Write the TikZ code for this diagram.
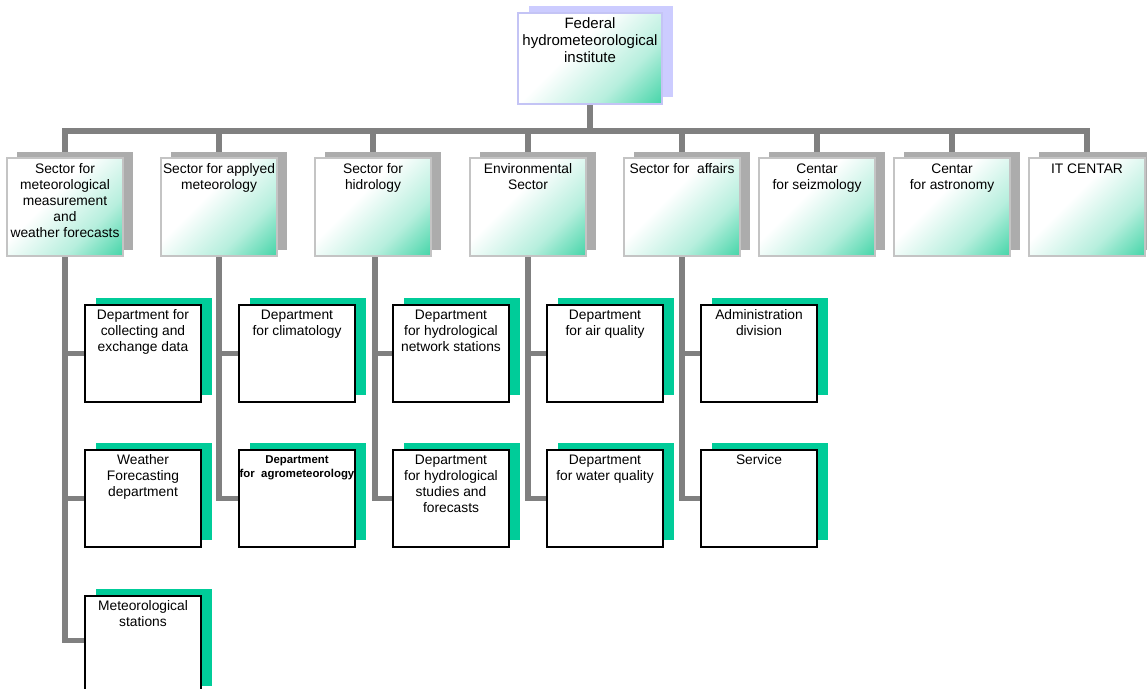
\documentclass[tikz,border=0pt]{standalone}
\usepackage{fontspec}
\setmainfont{Liberation Sans}
\usetikzlibrary{shadows,backgrounds}

\definecolor{linkgrey}{RGB}{128,128,128}
\definecolor{sectshadow}{RGB}{172,172,172}
\definecolor{sectedge}{RGB}{196,196,196}
\definecolor{deptshadow}{RGB}{0,204,153}
\definecolor{lavender}{RGB}{204,204,255}
\definecolor{topedge}{RGB}{196,196,245}
\definecolor{fadegreen}{RGB}{30,204,150}

% white in the upper left, fading to green in the lower right
\pgfdeclarehorizontalshading{whitegreen}{100bp}{color(0bp)=(white); color(42bp)=(white); color(66bp)=(fadegreen!32!white); color(92bp)=(fadegreen); color(100bp)=(fadegreen)}

% top-aligned, centred text block of fixed size
\newcommand\blocktext[6]{\parbox[t][#2][t]{#1}{\centering\fontsize{#3}{#4}\selectfont\vspace*{#5}\strut #6\par}}
\newcommand\toptext[1]{\blocktext{144pt}{91pt}{15}{17}{3.4pt}{#1}}
\newcommand\secttext[1]{\blocktext{116pt}{98pt}{13.8}{16}{3.8pt}{#1}}
\newcommand\depttext[1]{\blocktext{116pt}{97pt}{13.8}{16}{2.8pt}{#1}}
\newcommand\smalldepttext[1]{\blocktext{116pt}{97pt}{11.4}{14}{3.2pt}{\bfseries #1}}

\begin{document}
\begin{tikzpicture}[x=1pt,y=-1pt,
  link/.style={draw=linkgrey, line width=5.5pt, line join=miter},
  boxbase/.style={anchor=north west, inner sep=0pt, outer sep=0pt},
  topbox/.style={boxbase, draw=topedge, line width=1.6pt, shading=whitegreen, shading angle=-45,
    general shadow={shadow xshift=11pt, shadow yshift=7pt, fill=lavender}},
  sectbox/.style={boxbase, draw=sectedge, line width=1.6pt, shading=whitegreen, shading angle=-45,
    general shadow={shadow xshift=10pt, shadow yshift=6pt, fill=sectshadow}},
  deptbox/.style={boxbase, draw=black, line width=1.8pt, fill=white,
    general shadow={shadow xshift=10.5pt, shadow yshift=7.5pt, fill=deptshadow}},
]
\useasboundingbox (0,0) rectangle (1147,688);

\coordinate (bus) at (0,131);

% institute
\node[topbox] (top) at (518,13) {\toptext{Federal\\hydrometeorological\\institute}};

% sectors and centres
\node[sectbox] (s1) at (7,158)    {\secttext{Sector for\\meteorological\\measurement\\and\\weather forecasts}};
\node[sectbox] (s2) at (161,158)  {\secttext{Sector for applyed\\meteorology}};
\node[sectbox] (s3) at (315,158)  {\secttext{Sector for\\hidrology}};
\node[sectbox] (s4) at (470,158)  {\secttext{Environmental\\Sector}};
\node[sectbox] (s5) at (624,158)  {\secttext{Sector for~ affairs}};
\node[sectbox] (s6) at (759,158)  {\secttext{Centar\\for seizmology}};
\node[sectbox] (s7) at (894,158)  {\secttext{Centar\\for astronomy}};
\node[sectbox] (s8) at (1029,158) {\secttext{IT CENTAR}};

% departments
\node[deptbox] (d11) at (85,305)  {\depttext{Department for\\collecting and\\exchange data}};
\node[deptbox] (d12) at (85,450)  {\depttext{Weather\\Forecasting\\department}};
\node[deptbox] (d13) at (85,596)  {\depttext{Meteorological\\stations}};
\node[deptbox] (d21) at (239,305) {\depttext{Department\\for climatology}};
\node[deptbox] (d22) at (239,450) {\smalldepttext{Department\\for~ agrometeorology}};
\node[deptbox] (d31) at (393,305) {\depttext{Department\\for hydrological\\network stations}};
\node[deptbox] (d32) at (393,450) {\depttext{Department\\for hydrological\\studies and\\forecasts}};
\node[deptbox] (d41) at (547,305) {\depttext{Department\\for air quality}};
\node[deptbox] (d42) at (547,450) {\depttext{Department\\for water quality}};
\node[deptbox] (d51) at (701,305) {\depttext{Administration\\division}};
\node[deptbox] (d52) at (701,450) {\depttext{Service}};

% connectors, kept behind the boxes
\begin{scope}[on background layer]
  % main bus with the two outer drops
  \draw[link] (s1.north) -- (s1.north |- bus) -- (s8.north |- bus) -- (s8.north);
  \draw[link] (top.south) -- (top.south |- bus);
  \foreach \s in {s2,s3,s4,s5,s6,s7}
    \draw[link] (\s.north |- bus) -- (\s.north);
  % sector to department trees
  \draw[link] (s1.south) |- ([yshift=4pt]d13.west);
  \draw[link] (s1.south |- d11.west) -- (d11.west);
  \draw[link] (s1.south |- d12.west) -- (d12.west);
  \draw[link] (s2.south) |- (d22.west);
  \draw[link] (s2.south |- d21.west) -- (d21.west);
  \draw[link] ([xshift=2pt]s3.south) |- (d32.west);
  \draw[link] ([xshift=2pt]s3.south |- d31.west) -- (d31.west);
  \draw[link] (s4.south) |- (d42.west);
  \draw[link] (s4.south |- d41.west) -- (d41.west);
  \draw[link] (s5.south) |- (d52.west);
  \draw[link] (s5.south |- d51.west) -- (d51.west);
\end{scope}
\end{tikzpicture}
\end{document}
